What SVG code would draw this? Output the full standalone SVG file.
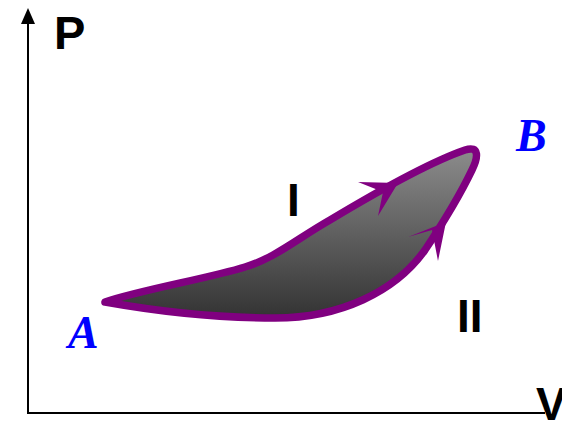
<svg xmlns="http://www.w3.org/2000/svg" width="562" height="423" viewBox="0 0 562 423">
<defs>
<linearGradient id="g" x1="0" y1="0" x2="0" y2="1">
<stop offset="0" stop-color="#8c8c8c"/>
<stop offset="1" stop-color="#333333"/>
</linearGradient>
<style>
.ax{stroke:#000;stroke-width:2;fill:none}
.lbl{font-family:"Liberation Sans",Arial,sans-serif;font-weight:bold;fill:#000}
.pt{font-family:"Liberation Serif","Times New Roman",serif;font-weight:bold;font-style:italic;fill:#0000ff}
.arr{fill:#800080}
</style>
</defs>
<rect width="562" height="423" fill="#fff"/>
<g id="axes">
<line class="ax" x1="28" y1="414" x2="28" y2="20"/>
<polygon points="28,8 21,24 35,24" fill="#000"/>
<line class="ax" x1="27" y1="413" x2="545" y2="413"/>
</g>
<g id="cycle">
<path d="M 105,302 C 140,290 210,278 245,267 C 275,258 295,240 330,220 C 380,190 430,162 465,150 C 480,145 478,158 472,170 C 460,195 445,220 425,250 C 395,292 340,318 275,318 C 210,318 150,310 105,302 Z" fill="url(#g)" stroke="#800080" stroke-width="7.5" stroke-linejoin="round"/>
</g>
<g id="connectors">
<polygon class="arr" points="398,183 358,182 383,192 378,216"/>
<polygon class="arr" points="446,222 408,237 432,230 438,261"/>
</g>
<g id="labels">
<text class="lbl" x="54" y="49" font-size="47">P</text>
<text class="lbl" x="536" y="420" font-size="46">V</text>
<text class="lbl" x="287" y="216" font-size="46">I</text>
<text class="lbl" x="457" y="332" font-size="46">II</text>
<text class="pt" x="68" y="348" font-size="46">A</text>
<text class="pt" x="516" y="151" font-size="46">B</text>
</g>
</svg>
